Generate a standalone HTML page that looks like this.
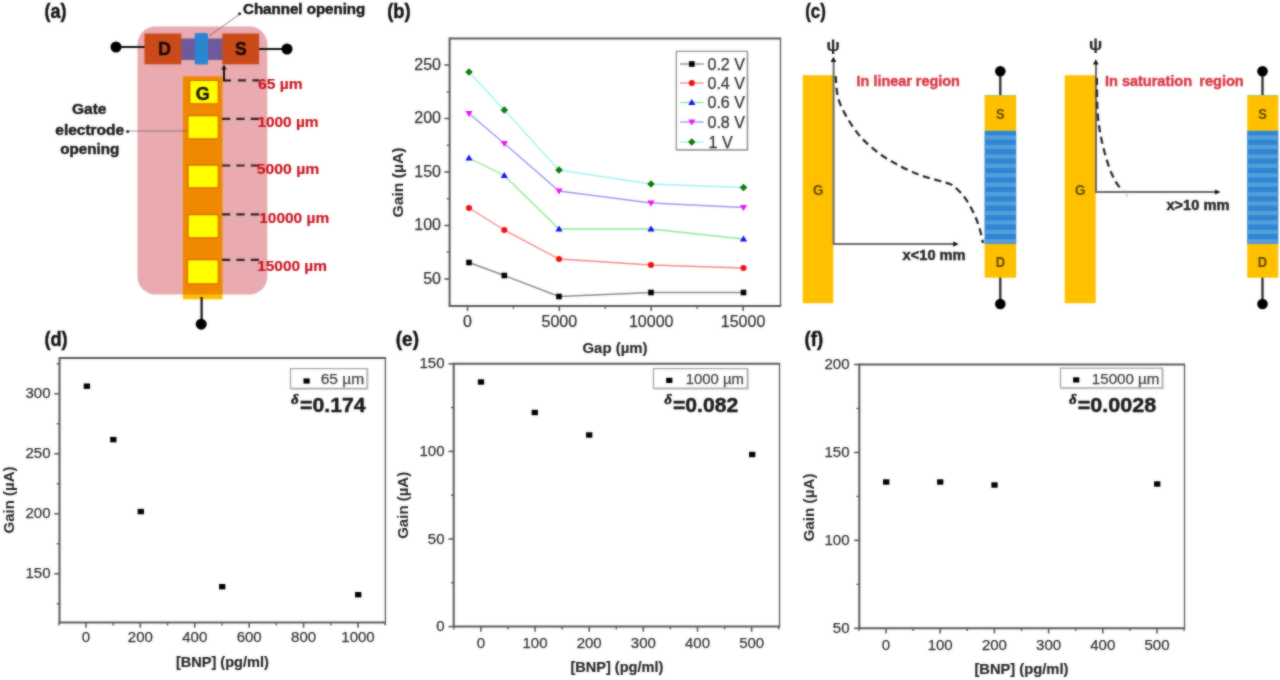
<!DOCTYPE html>
<html><head><meta charset="utf-8"><title>Figure</title>
<style>
html,body{margin:0;padding:0;background:#fff;}
body{width:1280px;height:680px;overflow:hidden;position:relative;font-family:'Liberation Sans',sans-serif;}
svg{display:block;position:absolute;left:0;top:0;font-family:"Liberation Sans",sans-serif;}
svg.soft{filter:blur(0.85px);}
svg.sharp{opacity:0.45;}
</style></head><body>
<svg class="soft" width="1280" height="680" viewBox="0 0 1280 680">
<rect x="-10" y="-10" width="1300" height="700" fill="#fff"/>
<text x="44.4" y="18.1" font-size="19.7" font-weight="bold" fill="#111" text-anchor="start" stroke="#111" stroke-width="0.45" textLength="22" lengthAdjust="spacingAndGlyphs" >(a)</text>
<rect x="137.5" y="26.5" width="129.8" height="268" rx="18" ry="18" fill="#e9abb0"/>
<line x1="116" y1="47" x2="145" y2="47" stroke="#111" stroke-width="2"/>
<circle cx="116" cy="47" r="5.5" fill="#000"/>
<line x1="259" y1="49" x2="287" y2="49" stroke="#111" stroke-width="2"/>
<circle cx="287" cy="49" r="5.5" fill="#000"/>
<rect x="181" y="38.5" width="42" height="21.5" fill="#6e5a9b"/>
<rect x="144.5" y="33.5" width="36.8" height="30.8" fill="#cb4a19"/>
<rect x="222.3" y="33.5" width="36.8" height="30.8" fill="#cb4a19"/>
<rect x="194.7" y="33" width="13.3" height="31.5" rx="1.5" fill="#2b86d1"/>
<text x="164.6" y="54.6" font-size="17.5" font-weight="bold" fill="#1a0a05" text-anchor="middle" stroke="#1a0a05" stroke-width="0.45" >D</text>
<text x="240.9" y="54.8" font-size="17.5" font-weight="bold" fill="#1a0a05" text-anchor="middle" stroke="#1a0a05" stroke-width="0.45" >S</text>
<line x1="240" y1="14" x2="209" y2="36" stroke="#666" stroke-width="0.8"/>
<circle cx="239.6" cy="13.7" r="1.5" fill="#222"/>
<text x="243" y="14.2" font-size="15" font-weight="bold" fill="#151515" text-anchor="start" stroke="#151515" stroke-width="0.45" textLength="122.3" lengthAdjust="spacingAndGlyphs" >Channel opening</text>
<rect x="182.9" y="294" width="39.6" height="5.3" fill="#ffc000"/>
<rect x="182.9" y="76.3" width="39.6" height="218.2" fill="#ef8a00"/>
<rect x="189.6" y="80.3" width="28.80000000000001" height="23.5" rx="1.5" fill="#ffff00" stroke="#e06c00" stroke-width="1.3"/>
<rect x="187.8" y="115.5" width="30.599999999999994" height="23.5" rx="1.5" fill="#ffff00" stroke="#e06c00" stroke-width="1.3"/>
<rect x="188" y="165" width="30.400000000000006" height="23" rx="1.5" fill="#ffff00" stroke="#e06c00" stroke-width="1.3"/>
<rect x="188" y="214.5" width="30.400000000000006" height="23.5" rx="1.5" fill="#ffff00" stroke="#e06c00" stroke-width="1.3"/>
<rect x="187.5" y="259.5" width="30.900000000000006" height="24.5" rx="1.5" fill="#ffff00" stroke="#e06c00" stroke-width="1.3"/>
<text x="202.8" y="99.8" font-size="18" font-weight="bold" fill="#1a1400" text-anchor="middle" stroke="#1a1400" stroke-width="0.45" >G</text>
<line x1="201.6" y1="297" x2="201.6" y2="322" stroke="#111" stroke-width="2.2"/>
<circle cx="201.2" cy="324.2" r="5.5" fill="#000"/>
<path d="M224 67 L224 80.6 L231 80.6" fill="none" stroke="#111" stroke-width="2"/>
<path d="M224 64.5 L221.4 69.5 L226.6 69.5 Z" fill="#111"/>
<line x1="238" y1="80.4" x2="259" y2="80.4" stroke="#2a2222" stroke-width="2.2" stroke-dasharray="8,6.4"/>
<line x1="222" y1="118.8" x2="259" y2="118.8" stroke="#2a2222" stroke-width="2.2" stroke-dasharray="8.2,6.2"/>
<line x1="222" y1="165.5" x2="259" y2="165.5" stroke="#2a2222" stroke-width="2.2" stroke-dasharray="8.2,6.2"/>
<line x1="222" y1="214.3" x2="259" y2="214.3" stroke="#2a2222" stroke-width="2.2" stroke-dasharray="8.2,6.2"/>
<line x1="222" y1="259.8" x2="259" y2="259.8" stroke="#2a2222" stroke-width="2.2" stroke-dasharray="8.2,6.2"/>
<text x="258" y="88.5" font-size="14" font-weight="bold" fill="#c9141f" text-anchor="start" stroke="#c9141f" stroke-width="0.15" textLength="44.5" lengthAdjust="spacingAndGlyphs" >65 µm</text>
<text x="257.4" y="126.6" font-size="14" font-weight="bold" fill="#c9141f" text-anchor="start" stroke="#c9141f" stroke-width="0.15" textLength="61.2" lengthAdjust="spacingAndGlyphs" >1000 µm</text>
<text x="256.8" y="174.1" font-size="14" font-weight="bold" fill="#c9141f" text-anchor="start" stroke="#c9141f" stroke-width="0.15" textLength="62.5" lengthAdjust="spacingAndGlyphs" >5000 µm</text>
<text x="259.2" y="222.9" font-size="14" font-weight="bold" fill="#c9141f" text-anchor="start" stroke="#c9141f" stroke-width="0.15" textLength="70" lengthAdjust="spacingAndGlyphs" >10000 µm</text>
<text x="257.2" y="270.7" font-size="14" font-weight="bold" fill="#c9141f" text-anchor="start" stroke="#c9141f" stroke-width="0.15" textLength="69.8" lengthAdjust="spacingAndGlyphs" >15000 µm</text>
<text x="72" y="114.1" font-size="14.5" font-weight="bold" fill="#1c1c1c" text-anchor="start" stroke="#1c1c1c" stroke-width="0.45" textLength="34.5" lengthAdjust="spacingAndGlyphs" >Gate</text>
<text x="55.3" y="134.6" font-size="14.5" font-weight="bold" fill="#1c1c1c" text-anchor="start" stroke="#1c1c1c" stroke-width="0.45" textLength="68.8" lengthAdjust="spacingAndGlyphs" >electrode</text>
<text x="60.2" y="154.1" font-size="14.5" font-weight="bold" fill="#1c1c1c" text-anchor="start" stroke="#1c1c1c" stroke-width="0.45" textLength="59" lengthAdjust="spacingAndGlyphs" >opening</text>
<circle cx="127.7" cy="131.5" r="1.5" fill="#222"/>
<line x1="128" y1="131" x2="187.5" y2="131" stroke="#555" stroke-opacity="0.6" stroke-width="1"/>
<text x="387.2" y="18.1" font-size="19.7" font-weight="bold" fill="#111" text-anchor="start" stroke="#111" stroke-width="0.45" textLength="23.4" lengthAdjust="spacingAndGlyphs" >(b)</text>
<rect x="449.6" y="38.5" width="330.9" height="267.4" fill="#fff" stroke="none"/>
<line x1="449.6" y1="37.5" x2="449.6" y2="306.9" stroke="#5a5a5a" stroke-width="2"/>
<line x1="449.6" y1="305.9" x2="781.15" y2="305.9" stroke="#5a5a5a" stroke-width="2"/>
<line x1="449.6" y1="38.5" x2="781.15" y2="38.5" stroke="#5a5a5a" stroke-width="2"/>
<line x1="780.5" y1="38.5" x2="780.5" y2="305.9" stroke="#5a5a5a" stroke-width="1.3"/>
<line x1="444.40000000000003" y1="279.0" x2="449.6" y2="279.0" stroke="#5a5a5a" stroke-width="1.6"/>
<line x1="444.40000000000003" y1="225.5" x2="449.6" y2="225.5" stroke="#5a5a5a" stroke-width="1.6"/>
<line x1="444.40000000000003" y1="172.0" x2="449.6" y2="172.0" stroke="#5a5a5a" stroke-width="1.6"/>
<line x1="444.40000000000003" y1="118.5" x2="449.6" y2="118.5" stroke="#5a5a5a" stroke-width="1.6"/>
<line x1="444.40000000000003" y1="65.0" x2="449.6" y2="65.0" stroke="#5a5a5a" stroke-width="1.6"/>
<line x1="446.8" y1="252.25" x2="449.6" y2="252.25" stroke="#5a5a5a" stroke-width="1.4"/>
<line x1="446.8" y1="198.75" x2="449.6" y2="198.75" stroke="#5a5a5a" stroke-width="1.4"/>
<line x1="446.8" y1="145.25" x2="449.6" y2="145.25" stroke="#5a5a5a" stroke-width="1.4"/>
<line x1="446.8" y1="91.75" x2="449.6" y2="91.75" stroke="#5a5a5a" stroke-width="1.4"/>
<text x="441" y="283.86" font-size="16" font-weight="normal" fill="#333" text-anchor="end" stroke="#333" stroke-width="0.25" >50</text>
<text x="441" y="230.35999999999999" font-size="16" font-weight="normal" fill="#333" text-anchor="end" stroke="#333" stroke-width="0.25" >100</text>
<text x="441" y="176.85999999999999" font-size="16" font-weight="normal" fill="#333" text-anchor="end" stroke="#333" stroke-width="0.25" >150</text>
<text x="441" y="123.36" font-size="16" font-weight="normal" fill="#333" text-anchor="end" stroke="#333" stroke-width="0.25" >200</text>
<text x="441" y="69.86" font-size="16" font-weight="normal" fill="#333" text-anchor="end" stroke="#333" stroke-width="0.25" >250</text>
<line x1="467.5" y1="305.9" x2="467.5" y2="311.09999999999997" stroke="#5a5a5a" stroke-width="1.6"/>
<line x1="559.35" y1="305.9" x2="559.35" y2="311.09999999999997" stroke="#5a5a5a" stroke-width="1.6"/>
<line x1="651.2" y1="305.9" x2="651.2" y2="311.09999999999997" stroke="#5a5a5a" stroke-width="1.6"/>
<line x1="743.05" y1="305.9" x2="743.05" y2="311.09999999999997" stroke="#5a5a5a" stroke-width="1.6"/>
<line x1="513.425" y1="305.9" x2="513.425" y2="308.7" stroke="#5a5a5a" stroke-width="1.4"/>
<line x1="605.275" y1="305.9" x2="605.275" y2="308.7" stroke="#5a5a5a" stroke-width="1.4"/>
<line x1="697.125" y1="305.9" x2="697.125" y2="308.7" stroke="#5a5a5a" stroke-width="1.4"/>
<text x="467.5" y="326.86" font-size="16" font-weight="normal" fill="#333" text-anchor="middle" stroke="#333" stroke-width="0.25" >0</text>
<text x="559.35" y="326.86" font-size="16" font-weight="normal" fill="#333" text-anchor="middle" stroke="#333" stroke-width="0.25" >5000</text>
<text x="651.2" y="326.86" font-size="16" font-weight="normal" fill="#333" text-anchor="middle" stroke="#333" stroke-width="0.25" >10000</text>
<text x="743.05" y="326.86" font-size="16" font-weight="normal" fill="#333" text-anchor="middle" stroke="#333" stroke-width="0.25" >15000</text>
<text transform="translate(403,182.5) rotate(-90)" x="0" y="0" font-size="15" font-weight="bold" fill="#262626" text-anchor="middle" textLength="70" lengthAdjust="spacingAndGlyphs">Gain (µA)</text>
<text x="615" y="353.1" font-size="15" font-weight="bold" fill="#262626" text-anchor="middle" stroke="#262626" stroke-width="0.15" textLength="65" lengthAdjust="spacingAndGlyphs" >Gap (µm)</text>
<polyline points="469,262.5 504.3,275.5 559,296.5 651,292.5 743.5,292.5" fill="none" stroke="#8a8a8a" stroke-width="1.35"/>
<polyline points="469,208 504.3,230 559,259 651,265 743.5,268" fill="none" stroke="#f58a8a" stroke-width="1.35"/>
<polyline points="469,158 504.3,175.5 559,229 651,229 743.5,239" fill="none" stroke="#93e693" stroke-width="1.35"/>
<polyline points="469,113.5 504.3,143.5 559,191 651,203 743.5,207.5" fill="none" stroke="#9a9af2" stroke-width="1.35"/>
<polyline points="469,72 504.3,110 559,170 651,184 743.5,187.5" fill="none" stroke="#a6f2f2" stroke-width="1.35"/>
<rect x="466.2" y="259.7" width="5.6" height="5.6" fill="#000"/>
<rect x="501.5" y="272.7" width="5.6" height="5.6" fill="#000"/>
<rect x="556.2" y="293.7" width="5.6" height="5.6" fill="#000"/>
<rect x="648.2" y="289.7" width="5.6" height="5.6" fill="#000"/>
<rect x="740.7" y="289.7" width="5.6" height="5.6" fill="#000"/>
<circle cx="469" cy="208" r="3.05" fill="#f01010"/>
<circle cx="504.3" cy="230" r="3.05" fill="#f01010"/>
<circle cx="559" cy="259" r="3.05" fill="#f01010"/>
<circle cx="651" cy="265" r="3.05" fill="#f01010"/>
<circle cx="743.5" cy="268" r="3.05" fill="#f01010"/>
<path d="M469 154.4 L472.6 160.6 L465.4 160.6 Z" fill="#1010f0"/>
<path d="M504.3 171.9 L507.90000000000003 178.1 L500.7 178.1 Z" fill="#1010f0"/>
<path d="M559 225.4 L562.6 231.6 L555.4 231.6 Z" fill="#1010f0"/>
<path d="M651 225.4 L654.6 231.6 L647.4 231.6 Z" fill="#1010f0"/>
<path d="M743.5 235.4 L747.1 241.6 L739.9 241.6 Z" fill="#1010f0"/>
<path d="M469 117.1 L472.6 110.9 L465.4 110.9 Z" fill="#f010f0"/>
<path d="M504.3 147.1 L507.90000000000003 140.9 L500.7 140.9 Z" fill="#f010f0"/>
<path d="M559 194.6 L562.6 188.4 L555.4 188.4 Z" fill="#f010f0"/>
<path d="M651 206.6 L654.6 200.4 L647.4 200.4 Z" fill="#f010f0"/>
<path d="M743.5 211.1 L747.1 204.9 L739.9 204.9 Z" fill="#f010f0"/>
<path d="M469 68.2 L472.8 72 L469 75.8 L465.2 72 Z" fill="#0a7a0a"/>
<path d="M504.3 106.2 L508.1 110 L504.3 113.8 L500.5 110 Z" fill="#0a7a0a"/>
<path d="M559 166.2 L562.8 170 L559 173.8 L555.2 170 Z" fill="#0a7a0a"/>
<path d="M651 180.2 L654.8 184 L651 187.8 L647.2 184 Z" fill="#0a7a0a"/>
<path d="M743.5 183.7 L747.3 187.5 L743.5 191.3 L739.7 187.5 Z" fill="#0a7a0a"/>
<rect x="677.5" y="52.5" width="71" height="98.5" fill="#999" opacity="0.55"/>
<rect x="676.3" y="51.3" width="71" height="98.5" fill="#fff" stroke="#8c8c8c" stroke-width="1.2"/>
<line x1="680" y1="64" x2="703.5" y2="64" stroke="#8a8a8a" stroke-width="1.35"/>
<rect x="689.0" y="61.2" width="5.6" height="5.6" fill="#000"/>
<text x="707.5" y="69.7" font-size="16" font-weight="normal" fill="#333" text-anchor="start" stroke="#333" stroke-width="0.25" >0.2 V</text>
<line x1="680" y1="83" x2="703.5" y2="83" stroke="#f58a8a" stroke-width="1.35"/>
<circle cx="691.8" cy="83" r="3.05" fill="#f01010"/>
<text x="707.5" y="88.7" font-size="16" font-weight="normal" fill="#333" text-anchor="start" stroke="#333" stroke-width="0.25" >0.4 V</text>
<line x1="680" y1="102.5" x2="703.5" y2="102.5" stroke="#93e693" stroke-width="1.35"/>
<path d="M691.8 98.9 L695.4 105.1 L688.1999999999999 105.1 Z" fill="#1010f0"/>
<text x="707.5" y="108.2" font-size="16" font-weight="normal" fill="#333" text-anchor="start" stroke="#333" stroke-width="0.25" >0.6 V</text>
<line x1="680" y1="122" x2="703.5" y2="122" stroke="#9a9af2" stroke-width="1.35"/>
<path d="M691.8 125.6 L695.4 119.4 L688.1999999999999 119.4 Z" fill="#f010f0"/>
<text x="707.5" y="127.7" font-size="16" font-weight="normal" fill="#333" text-anchor="start" stroke="#333" stroke-width="0.25" >0.8 V</text>
<line x1="680" y1="142" x2="703.5" y2="142" stroke="#a6f2f2" stroke-width="1.35"/>
<path d="M691.8 138.2 L695.5999999999999 142 L691.8 145.8 L688.0 142 Z" fill="#0a7a0a"/>
<text x="708.6" y="147.7" font-size="16" font-weight="normal" fill="#333" text-anchor="start" stroke="#333" stroke-width="0.25" >1 V</text>
<text x="805.2" y="18.1" font-size="19.7" font-weight="bold" fill="#111" text-anchor="start" stroke="#111" stroke-width="0.45" textLength="20.6" lengthAdjust="spacingAndGlyphs" >(c)</text>
<rect x="802.7" y="75.2" width="30.6" height="228" fill="#ffc000"/>
<text transform="translate(818.2,195.3) scale(0.9,1)" x="0" y="0" font-size="15" font-weight="bold" fill="#5e4700" text-anchor="middle">G</text>
<path d="M833.6 61 L833.6 244.1 L954 244.1" fill="none" stroke="#6a6a6a" stroke-width="2"/>
<path d="M833.4 56.8 L830.6 62 L836.2 62 Z" fill="#111"/>
<path d="M958.8 244.1 L953.2 241.5 L953.2 246.7 Z" fill="#111"/>
<text transform="translate(833,50.6) scale(1.08,1)" x="0" y="0" font-size="16.8" font-weight="bold" fill="#222" text-anchor="middle">ψ</text>
<text x="856.6" y="86.3" font-size="15" font-weight="bold" fill="#d93844" text-anchor="start" stroke="#d93844" stroke-width="0.45" textLength="103.2" lengthAdjust="spacingAndGlyphs" >In linear region</text>
<text x="902.6" y="259.7" font-size="14" font-weight="bold" fill="#262626" text-anchor="start" stroke="#262626" stroke-width="0.45" textLength="63" lengthAdjust="spacingAndGlyphs" >x&lt;10 mm</text>
<path d="M835.6 76.0 C836.0 79.7,836.3 91.3,838.2 98.2 C840.1 105.1,843.3 111.0,847.0 117.4 C850.7 123.8,855.1 130.6,860.3 136.5 C865.5 142.4,871.9 147.9,878.0 152.6 C884.1 157.2,890.2 160.7,897.0 164.4 C903.8 168.1,911.8 171.9,919.0 174.7 C926.2 177.5,934.8 179.4,940.0 181.0 C945.2 182.6,947.2 182.7,950.0 184.0 C952.8 185.3,954.3 186.4,957.0 189.0 C959.7 191.6,963.2 195.2,966.2 199.7 C969.2 204.2,972.7 210.8,975.0 215.9 C977.3 221.0,978.7 225.5,980.0 230.0 C981.3 234.5,982.5 240.8,983.0 243.0" fill="none" stroke="#2a2a2a" stroke-width="2.3" stroke-dasharray="7.2,4.6"/>
<line x1="1000.3" y1="71" x2="1000.3" y2="96" stroke="#2a2a2a" stroke-width="2.3"/>
<circle cx="1000.3" cy="71.3" r="5.3" fill="#000"/>
<line x1="1000.3" y1="277" x2="1000.3" y2="304" stroke="#2a2a2a" stroke-width="2.3"/>
<circle cx="1000.3" cy="304" r="5.3" fill="#000"/>
<rect x="984.6" y="95.5" width="31.600000000000023" height="35.3" fill="#ffc000"/>
<rect x="984.6" y="95" width="31.600000000000023" height="1.1" fill="#9ccf6a"/>
<rect x="984.6" y="243.7" width="31.600000000000023" height="34" fill="#ffc000"/>
<rect x="984.6" y="130.7" width="31.600000000000023" height="113.2" fill="#2f86d1"/>
<rect x="984.6" y="135.42" width="31.600000000000023" height="4.25" fill="#559fdc"/>
<rect x="984.6" y="144.85" width="31.600000000000023" height="4.25" fill="#559fdc"/>
<rect x="984.6" y="154.28" width="31.600000000000023" height="4.25" fill="#559fdc"/>
<rect x="984.6" y="163.72" width="31.600000000000023" height="4.25" fill="#559fdc"/>
<rect x="984.6" y="173.15" width="31.600000000000023" height="4.25" fill="#559fdc"/>
<rect x="984.6" y="182.58" width="31.600000000000023" height="4.25" fill="#559fdc"/>
<rect x="984.6" y="192.02" width="31.600000000000023" height="4.25" fill="#559fdc"/>
<rect x="984.6" y="201.45" width="31.600000000000023" height="4.25" fill="#559fdc"/>
<rect x="984.6" y="210.88" width="31.600000000000023" height="4.25" fill="#559fdc"/>
<rect x="984.6" y="220.32" width="31.600000000000023" height="4.25" fill="#559fdc"/>
<rect x="984.6" y="229.75" width="31.600000000000023" height="4.25" fill="#559fdc"/>
<rect x="984.6" y="239.18" width="31.600000000000023" height="4.25" fill="#559fdc"/>
<text transform="translate(1000.3,118.8) scale(0.86,1)" x="0" y="0" font-size="15" font-weight="bold" fill="#5e4700" text-anchor="middle">S</text>
<text transform="translate(1000.3,267.4) scale(0.86,1)" x="0" y="0" font-size="15" font-weight="bold" fill="#5e4700" text-anchor="middle">D</text>
<rect x="1064.7" y="75.2" width="31" height="228" fill="#ffc000"/>
<text transform="translate(1080.2,195.3) scale(0.9,1)" x="0" y="0" font-size="15" font-weight="bold" fill="#5e4700" text-anchor="middle">G</text>
<path d="M1096 63 L1096 192 L1216 192" fill="none" stroke="#6a6a6a" stroke-width="2"/>
<path d="M1095.8 59.3 L1093 64.5 L1098.6 64.5 Z" fill="#111"/>
<path d="M1220.6 192 L1215 189.4 L1215 194.6 Z" fill="#111"/>
<text transform="translate(1095.6,50.4) scale(1.08,1)" x="0" y="0" font-size="16.8" font-weight="bold" fill="#222" text-anchor="middle">ψ</text>
<text x="1105" y="85.9" font-size="15" font-weight="bold" fill="#d93844" text-anchor="start" stroke="#d93844" stroke-width="0.45" textLength="87" lengthAdjust="spacingAndGlyphs" >In saturation</text>
<text x="1199.3" y="85.9" font-size="15" font-weight="bold" fill="#d93844" text-anchor="start" stroke="#d93844" stroke-width="0.45" textLength="44.4" lengthAdjust="spacingAndGlyphs" >region</text>
<text x="1166.4" y="209.5" font-size="14" font-weight="bold" fill="#262626" text-anchor="start" stroke="#262626" stroke-width="0.45" textLength="63" lengthAdjust="spacingAndGlyphs" >x&gt;10 mm</text>
<path d="M1096.9 78.0 C1097.0 83.8,1096.8 102.5,1097.6 113.0 C1098.4 123.5,1099.9 132.2,1101.8 141.0 C1103.7 149.8,1106.4 159.2,1108.7 166.0 C1111.0 172.8,1113.4 177.4,1115.7 181.6 C1118.0 185.8,1121.5 189.4,1122.7 191.0" fill="none" stroke="#2a2a2a" stroke-width="2.3" stroke-dasharray="7.2,4.6"/>
<rect x="1126.3" y="194" width="1.3" height="2.6" fill="#bbb"/>
<line x1="1262.5" y1="71" x2="1262.5" y2="96" stroke="#2a2a2a" stroke-width="2.3"/>
<circle cx="1262.5" cy="71.3" r="5.3" fill="#000"/>
<line x1="1262.5" y1="277" x2="1262.5" y2="304" stroke="#2a2a2a" stroke-width="2.3"/>
<circle cx="1262.5" cy="304" r="5.3" fill="#000"/>
<rect x="1247.2" y="95.5" width="31.09999999999991" height="35.3" fill="#ffc000"/>
<rect x="1247.2" y="95" width="31.09999999999991" height="1.1" fill="#9ccf6a"/>
<rect x="1247.2" y="243.7" width="31.09999999999991" height="34" fill="#ffc000"/>
<rect x="1247.2" y="130.7" width="31.09999999999991" height="113.2" fill="#2f86d1"/>
<rect x="1247.2" y="135.42" width="31.09999999999991" height="4.25" fill="#559fdc"/>
<rect x="1247.2" y="144.85" width="31.09999999999991" height="4.25" fill="#559fdc"/>
<rect x="1247.2" y="154.28" width="31.09999999999991" height="4.25" fill="#559fdc"/>
<rect x="1247.2" y="163.72" width="31.09999999999991" height="4.25" fill="#559fdc"/>
<rect x="1247.2" y="173.15" width="31.09999999999991" height="4.25" fill="#559fdc"/>
<rect x="1247.2" y="182.58" width="31.09999999999991" height="4.25" fill="#559fdc"/>
<rect x="1247.2" y="192.02" width="31.09999999999991" height="4.25" fill="#559fdc"/>
<rect x="1247.2" y="201.45" width="31.09999999999991" height="4.25" fill="#559fdc"/>
<rect x="1247.2" y="210.88" width="31.09999999999991" height="4.25" fill="#559fdc"/>
<rect x="1247.2" y="220.32" width="31.09999999999991" height="4.25" fill="#559fdc"/>
<rect x="1247.2" y="229.75" width="31.09999999999991" height="4.25" fill="#559fdc"/>
<rect x="1247.2" y="239.18" width="31.09999999999991" height="4.25" fill="#559fdc"/>
<text transform="translate(1262.5,118.8) scale(0.86,1)" x="0" y="0" font-size="15" font-weight="bold" fill="#5e4700" text-anchor="middle">S</text>
<text transform="translate(1262.5,267.4) scale(0.86,1)" x="0" y="0" font-size="15" font-weight="bold" fill="#5e4700" text-anchor="middle">D</text>
<text x="44.4" y="345.8" font-size="19.7" font-weight="bold" fill="#111" text-anchor="start" stroke="#111" stroke-width="0.45" textLength="23.2" lengthAdjust="spacingAndGlyphs" >(d)</text>
<rect x="59.5" y="358" width="325.9" height="264.6" fill="#fff" stroke="none"/>
<line x1="59.5" y1="357.0" x2="59.5" y2="623.6" stroke="#5a5a5a" stroke-width="2"/>
<line x1="59.5" y1="622.6" x2="386.04999999999995" y2="622.6" stroke="#5a5a5a" stroke-width="2"/>
<line x1="59.5" y1="358" x2="386.04999999999995" y2="358" stroke="#5a5a5a" stroke-width="2"/>
<line x1="385.4" y1="358" x2="385.4" y2="622.6" stroke="#5a5a5a" stroke-width="1.3"/>
<line x1="54.3" y1="573.75" x2="59.5" y2="573.75" stroke="#5a5a5a" stroke-width="1.6"/>
<line x1="54.3" y1="513.75" x2="59.5" y2="513.75" stroke="#5a5a5a" stroke-width="1.6"/>
<line x1="54.3" y1="453.75" x2="59.5" y2="453.75" stroke="#5a5a5a" stroke-width="1.6"/>
<line x1="54.3" y1="393.75" x2="59.5" y2="393.75" stroke="#5a5a5a" stroke-width="1.6"/>
<line x1="56.7" y1="603.75" x2="59.5" y2="603.75" stroke="#5a5a5a" stroke-width="1.4"/>
<line x1="56.7" y1="543.75" x2="59.5" y2="543.75" stroke="#5a5a5a" stroke-width="1.4"/>
<line x1="56.7" y1="483.75" x2="59.5" y2="483.75" stroke="#5a5a5a" stroke-width="1.4"/>
<line x1="56.7" y1="423.75" x2="59.5" y2="423.75" stroke="#5a5a5a" stroke-width="1.4"/>
<line x1="56.7" y1="363.75" x2="59.5" y2="363.75" stroke="#5a5a5a" stroke-width="1.4"/>
<text x="50.5" y="578.25" font-size="15" font-weight="normal" fill="#333" text-anchor="end" stroke="#333" stroke-width="0.25" >150</text>
<text x="50.5" y="518.25" font-size="15" font-weight="normal" fill="#333" text-anchor="end" stroke="#333" stroke-width="0.25" >200</text>
<text x="50.5" y="458.25" font-size="15" font-weight="normal" fill="#333" text-anchor="end" stroke="#333" stroke-width="0.25" >250</text>
<text x="50.5" y="398.25" font-size="15" font-weight="normal" fill="#333" text-anchor="end" stroke="#333" stroke-width="0.25" >300</text>
<line x1="85.9" y1="622.6" x2="85.9" y2="627.8000000000001" stroke="#5a5a5a" stroke-width="1.6"/>
<line x1="140.32" y1="622.6" x2="140.32" y2="627.8000000000001" stroke="#5a5a5a" stroke-width="1.6"/>
<line x1="194.74" y1="622.6" x2="194.74" y2="627.8000000000001" stroke="#5a5a5a" stroke-width="1.6"/>
<line x1="249.16" y1="622.6" x2="249.16" y2="627.8000000000001" stroke="#5a5a5a" stroke-width="1.6"/>
<line x1="303.58000000000004" y1="622.6" x2="303.58000000000004" y2="627.8000000000001" stroke="#5a5a5a" stroke-width="1.6"/>
<line x1="358.0" y1="622.6" x2="358.0" y2="627.8000000000001" stroke="#5a5a5a" stroke-width="1.6"/>
<line x1="58.690000000000005" y1="622.6" x2="58.690000000000005" y2="625.4" stroke="#5a5a5a" stroke-width="1.4"/>
<line x1="113.11000000000001" y1="622.6" x2="113.11000000000001" y2="625.4" stroke="#5a5a5a" stroke-width="1.4"/>
<line x1="167.53" y1="622.6" x2="167.53" y2="625.4" stroke="#5a5a5a" stroke-width="1.4"/>
<line x1="221.95000000000002" y1="622.6" x2="221.95000000000002" y2="625.4" stroke="#5a5a5a" stroke-width="1.4"/>
<line x1="276.37" y1="622.6" x2="276.37" y2="625.4" stroke="#5a5a5a" stroke-width="1.4"/>
<line x1="330.79" y1="622.6" x2="330.79" y2="625.4" stroke="#5a5a5a" stroke-width="1.4"/>
<line x1="385.21000000000004" y1="622.6" x2="385.21000000000004" y2="625.4" stroke="#5a5a5a" stroke-width="1.4"/>
<text x="85.9" y="642.3" font-size="15" font-weight="normal" fill="#333" text-anchor="middle" stroke="#333" stroke-width="0.25" >0</text>
<text x="140.32" y="642.3" font-size="15" font-weight="normal" fill="#333" text-anchor="middle" stroke="#333" stroke-width="0.25" >200</text>
<text x="194.74" y="642.3" font-size="15" font-weight="normal" fill="#333" text-anchor="middle" stroke="#333" stroke-width="0.25" >400</text>
<text x="249.16" y="642.3" font-size="15" font-weight="normal" fill="#333" text-anchor="middle" stroke="#333" stroke-width="0.25" >600</text>
<text x="303.58000000000004" y="642.3" font-size="15" font-weight="normal" fill="#333" text-anchor="middle" stroke="#333" stroke-width="0.25" >800</text>
<text x="358.0" y="642.3" font-size="15" font-weight="normal" fill="#333" text-anchor="middle" stroke="#333" stroke-width="0.25" >1000</text>
<text transform="translate(14,500) rotate(-90)" x="0" y="0" font-size="15" font-weight="bold" fill="#262626" text-anchor="middle" textLength="67" lengthAdjust="spacingAndGlyphs">Gain (µA)</text>
<text x="222.4" y="667.3" font-size="14" font-weight="bold" fill="#262626" text-anchor="middle" stroke="#262626" stroke-width="0.15" textLength="93" lengthAdjust="spacingAndGlyphs" >[BNP] (pg/ml)</text>
<rect x="83.75" y="383.5" width="6.3" height="5.4" fill="#000"/>
<rect x="110.14999999999999" y="436.90000000000003" width="6.3" height="5.4" fill="#000"/>
<rect x="137.65" y="508.90000000000003" width="6.3" height="5.4" fill="#000"/>
<rect x="219.04999999999998" y="584.0" width="6.3" height="5.4" fill="#000"/>
<rect x="355.05" y="592.0" width="6.3" height="5.4" fill="#000"/>
<rect x="291.5" y="369.6" width="76.5" height="19.8" fill="none" stroke="#d4d4d4" stroke-width="1.2"/>
<rect x="290.5" y="368.6" width="76.5" height="19.8" fill="#fff" stroke="#a8a8a8" stroke-width="1.3"/>
<rect x="303.5" y="378.4" width="6.2" height="5.2" fill="#000"/>
<text x="320.7" y="383.5" font-size="14.7" font-weight="normal" fill="#40404a" text-anchor="start" stroke="#40404a" stroke-width="0.25" textLength="43.6" lengthAdjust="spacingAndGlyphs" >65 µm</text>
<text x="291.2" y="403.8" font-size="14.5" font-weight="bold" font-style="italic" fill="#1a1a1a" style="font-family:'Liberation Serif',serif" stroke="#1a1a1a" stroke-width="0.6">δ</text>
<text x="300" y="411.6" font-size="21" font-weight="bold" fill="#1a1a1a" text-anchor="start" stroke="#1a1a1a" stroke-width="0.45" textLength="65.6" lengthAdjust="spacingAndGlyphs" >=0.174</text>
<text x="395.8" y="345.8" font-size="19.7" font-weight="bold" fill="#111" text-anchor="start" stroke="#111" stroke-width="0.45" textLength="23.2" lengthAdjust="spacingAndGlyphs" >(e)</text>
<rect x="453.7" y="363.8" width="325.8" height="262.8" fill="#fff" stroke="none"/>
<line x1="453.7" y1="362.8" x2="453.7" y2="627.6" stroke="#5a5a5a" stroke-width="2"/>
<line x1="453.7" y1="626.6" x2="780.15" y2="626.6" stroke="#5a5a5a" stroke-width="2"/>
<line x1="453.7" y1="363.8" x2="780.15" y2="363.8" stroke="#5a5a5a" stroke-width="2"/>
<line x1="779.5" y1="363.8" x2="779.5" y2="626.6" stroke="#5a5a5a" stroke-width="1.3"/>
<line x1="448.5" y1="626.6" x2="453.7" y2="626.6" stroke="#5a5a5a" stroke-width="1.6"/>
<line x1="448.5" y1="539.0" x2="453.7" y2="539.0" stroke="#5a5a5a" stroke-width="1.6"/>
<line x1="448.5" y1="451.40000000000003" x2="453.7" y2="451.40000000000003" stroke="#5a5a5a" stroke-width="1.6"/>
<line x1="448.5" y1="363.8" x2="453.7" y2="363.8" stroke="#5a5a5a" stroke-width="1.6"/>
<line x1="450.9" y1="582.8000000000001" x2="453.7" y2="582.8000000000001" stroke="#5a5a5a" stroke-width="1.4"/>
<line x1="450.9" y1="495.20000000000005" x2="453.7" y2="495.20000000000005" stroke="#5a5a5a" stroke-width="1.4"/>
<line x1="450.9" y1="407.6" x2="453.7" y2="407.6" stroke="#5a5a5a" stroke-width="1.4"/>
<text x="444.5" y="631.1" font-size="15" font-weight="normal" fill="#333" text-anchor="end" stroke="#333" stroke-width="0.25" >0</text>
<text x="444.5" y="543.5" font-size="15" font-weight="normal" fill="#333" text-anchor="end" stroke="#333" stroke-width="0.25" >50</text>
<text x="444.5" y="455.90000000000003" font-size="15" font-weight="normal" fill="#333" text-anchor="end" stroke="#333" stroke-width="0.25" >100</text>
<text x="444.5" y="368.3" font-size="15" font-weight="normal" fill="#333" text-anchor="end" stroke="#333" stroke-width="0.25" >150</text>
<line x1="480.9" y1="626.6" x2="480.9" y2="631.8000000000001" stroke="#5a5a5a" stroke-width="1.6"/>
<line x1="535.05" y1="626.6" x2="535.05" y2="631.8000000000001" stroke="#5a5a5a" stroke-width="1.6"/>
<line x1="589.1999999999999" y1="626.6" x2="589.1999999999999" y2="631.8000000000001" stroke="#5a5a5a" stroke-width="1.6"/>
<line x1="643.3499999999999" y1="626.6" x2="643.3499999999999" y2="631.8000000000001" stroke="#5a5a5a" stroke-width="1.6"/>
<line x1="697.5" y1="626.6" x2="697.5" y2="631.8000000000001" stroke="#5a5a5a" stroke-width="1.6"/>
<line x1="751.65" y1="626.6" x2="751.65" y2="631.8000000000001" stroke="#5a5a5a" stroke-width="1.6"/>
<line x1="453.825" y1="626.6" x2="453.825" y2="629.4" stroke="#5a5a5a" stroke-width="1.4"/>
<line x1="507.97499999999997" y1="626.6" x2="507.97499999999997" y2="629.4" stroke="#5a5a5a" stroke-width="1.4"/>
<line x1="562.125" y1="626.6" x2="562.125" y2="629.4" stroke="#5a5a5a" stroke-width="1.4"/>
<line x1="616.275" y1="626.6" x2="616.275" y2="629.4" stroke="#5a5a5a" stroke-width="1.4"/>
<line x1="670.425" y1="626.6" x2="670.425" y2="629.4" stroke="#5a5a5a" stroke-width="1.4"/>
<line x1="724.5749999999999" y1="626.6" x2="724.5749999999999" y2="629.4" stroke="#5a5a5a" stroke-width="1.4"/>
<line x1="778.7249999999999" y1="626.6" x2="778.7249999999999" y2="629.4" stroke="#5a5a5a" stroke-width="1.4"/>
<text x="480.9" y="648.0" font-size="15" font-weight="normal" fill="#333" text-anchor="middle" stroke="#333" stroke-width="0.25" >0</text>
<text x="535.05" y="648.0" font-size="15" font-weight="normal" fill="#333" text-anchor="middle" stroke="#333" stroke-width="0.25" >100</text>
<text x="589.1999999999999" y="648.0" font-size="15" font-weight="normal" fill="#333" text-anchor="middle" stroke="#333" stroke-width="0.25" >200</text>
<text x="643.3499999999999" y="648.0" font-size="15" font-weight="normal" fill="#333" text-anchor="middle" stroke="#333" stroke-width="0.25" >300</text>
<text x="697.5" y="648.0" font-size="15" font-weight="normal" fill="#333" text-anchor="middle" stroke="#333" stroke-width="0.25" >400</text>
<text x="751.65" y="648.0" font-size="15" font-weight="normal" fill="#333" text-anchor="middle" stroke="#333" stroke-width="0.25" >500</text>
<text transform="translate(408,505.3) rotate(-90)" x="0" y="0" font-size="15" font-weight="bold" fill="#262626" text-anchor="middle" textLength="67" lengthAdjust="spacingAndGlyphs">Gain (µA)</text>
<text x="616.9" y="672.3" font-size="14" font-weight="bold" fill="#262626" text-anchor="middle" stroke="#262626" stroke-width="0.15" textLength="93" lengthAdjust="spacingAndGlyphs" >[BNP] (pg/ml)</text>
<rect x="477.85" y="379.3" width="6.3" height="5.4" fill="#000"/>
<rect x="531.65" y="409.8" width="6.3" height="5.4" fill="#000"/>
<rect x="586.0500000000001" y="432.3" width="6.3" height="5.4" fill="#000"/>
<rect x="749.0500000000001" y="451.8" width="6.3" height="5.4" fill="#000"/>
<rect x="654.4" y="369.6" width="94" height="19.6" fill="none" stroke="#d4d4d4" stroke-width="1.2"/>
<rect x="653.4" y="368.6" width="94" height="19.6" fill="#fff" stroke="#a8a8a8" stroke-width="1.3"/>
<rect x="666.1999999999999" y="377.79999999999995" width="6.2" height="5.2" fill="#000"/>
<text x="685.8" y="383.5" font-size="14.7" font-weight="normal" fill="#40404a" text-anchor="start" stroke="#40404a" stroke-width="0.25" textLength="58.2" lengthAdjust="spacingAndGlyphs" >1000 µm</text>
<text x="664.4" y="403.8" font-size="14.5" font-weight="bold" font-style="italic" fill="#1a1a1a" style="font-family:'Liberation Serif',serif" stroke="#1a1a1a" stroke-width="0.6">δ</text>
<text x="673" y="411.8" font-size="21" font-weight="bold" fill="#1a1a1a" text-anchor="start" stroke="#1a1a1a" stroke-width="0.45" textLength="65.2" lengthAdjust="spacingAndGlyphs" >=0.082</text>
<text x="804.6" y="345.8" font-size="19.7" font-weight="bold" fill="#111" text-anchor="start" stroke="#111" stroke-width="0.45" textLength="18.6" lengthAdjust="spacingAndGlyphs" >(f)</text>
<rect x="859.3" y="364.5" width="325.20000000000005" height="263.79999999999995" fill="#fff" stroke="none"/>
<line x1="859.3" y1="363.5" x2="859.3" y2="629.3" stroke="#5a5a5a" stroke-width="2"/>
<line x1="859.3" y1="628.3" x2="1185.15" y2="628.3" stroke="#5a5a5a" stroke-width="2"/>
<line x1="859.3" y1="364.5" x2="1185.15" y2="364.5" stroke="#5a5a5a" stroke-width="2"/>
<line x1="1184.5" y1="364.5" x2="1184.5" y2="628.3" stroke="#5a5a5a" stroke-width="1.3"/>
<line x1="854.0999999999999" y1="628.3" x2="859.3" y2="628.3" stroke="#5a5a5a" stroke-width="1.6"/>
<line x1="854.0999999999999" y1="540.365" x2="859.3" y2="540.365" stroke="#5a5a5a" stroke-width="1.6"/>
<line x1="854.0999999999999" y1="452.42999999999995" x2="859.3" y2="452.42999999999995" stroke="#5a5a5a" stroke-width="1.6"/>
<line x1="854.0999999999999" y1="364.49499999999995" x2="859.3" y2="364.49499999999995" stroke="#5a5a5a" stroke-width="1.6"/>
<line x1="856.5" y1="584.3325" x2="859.3" y2="584.3325" stroke="#5a5a5a" stroke-width="1.4"/>
<line x1="856.5" y1="496.3974999999999" x2="859.3" y2="496.3974999999999" stroke="#5a5a5a" stroke-width="1.4"/>
<line x1="856.5" y1="408.4625" x2="859.3" y2="408.4625" stroke="#5a5a5a" stroke-width="1.4"/>
<text x="849.5" y="632.8" font-size="15" font-weight="normal" fill="#333" text-anchor="end" stroke="#333" stroke-width="0.25" >50</text>
<text x="849.5" y="544.865" font-size="15" font-weight="normal" fill="#333" text-anchor="end" stroke="#333" stroke-width="0.25" >100</text>
<text x="849.5" y="456.92999999999995" font-size="15" font-weight="normal" fill="#333" text-anchor="end" stroke="#333" stroke-width="0.25" >150</text>
<text x="849.5" y="368.99499999999995" font-size="15" font-weight="normal" fill="#333" text-anchor="end" stroke="#333" stroke-width="0.25" >200</text>
<line x1="886.0" y1="628.3" x2="886.0" y2="633.5" stroke="#5a5a5a" stroke-width="1.6"/>
<line x1="940.2" y1="628.3" x2="940.2" y2="633.5" stroke="#5a5a5a" stroke-width="1.6"/>
<line x1="994.4" y1="628.3" x2="994.4" y2="633.5" stroke="#5a5a5a" stroke-width="1.6"/>
<line x1="1048.6" y1="628.3" x2="1048.6" y2="633.5" stroke="#5a5a5a" stroke-width="1.6"/>
<line x1="1102.8" y1="628.3" x2="1102.8" y2="633.5" stroke="#5a5a5a" stroke-width="1.6"/>
<line x1="1157.0" y1="628.3" x2="1157.0" y2="633.5" stroke="#5a5a5a" stroke-width="1.6"/>
<line x1="858.9" y1="628.3" x2="858.9" y2="631.0999999999999" stroke="#5a5a5a" stroke-width="1.4"/>
<line x1="913.1" y1="628.3" x2="913.1" y2="631.0999999999999" stroke="#5a5a5a" stroke-width="1.4"/>
<line x1="967.3" y1="628.3" x2="967.3" y2="631.0999999999999" stroke="#5a5a5a" stroke-width="1.4"/>
<line x1="1021.5" y1="628.3" x2="1021.5" y2="631.0999999999999" stroke="#5a5a5a" stroke-width="1.4"/>
<line x1="1075.7" y1="628.3" x2="1075.7" y2="631.0999999999999" stroke="#5a5a5a" stroke-width="1.4"/>
<line x1="1129.9" y1="628.3" x2="1129.9" y2="631.0999999999999" stroke="#5a5a5a" stroke-width="1.4"/>
<line x1="1184.1" y1="628.3" x2="1184.1" y2="631.0999999999999" stroke="#5a5a5a" stroke-width="1.4"/>
<text x="886.0" y="649.6" font-size="15" font-weight="normal" fill="#333" text-anchor="middle" stroke="#333" stroke-width="0.25" >0</text>
<text x="940.2" y="649.6" font-size="15" font-weight="normal" fill="#333" text-anchor="middle" stroke="#333" stroke-width="0.25" >100</text>
<text x="994.4" y="649.6" font-size="15" font-weight="normal" fill="#333" text-anchor="middle" stroke="#333" stroke-width="0.25" >200</text>
<text x="1048.6" y="649.6" font-size="15" font-weight="normal" fill="#333" text-anchor="middle" stroke="#333" stroke-width="0.25" >300</text>
<text x="1102.8" y="649.6" font-size="15" font-weight="normal" fill="#333" text-anchor="middle" stroke="#333" stroke-width="0.25" >400</text>
<text x="1157.0" y="649.6" font-size="15" font-weight="normal" fill="#333" text-anchor="middle" stroke="#333" stroke-width="0.25" >500</text>
<text transform="translate(813.5,507.5) rotate(-90)" x="0" y="0" font-size="15" font-weight="bold" fill="#262626" text-anchor="middle" textLength="68" lengthAdjust="spacingAndGlyphs">Gain (µA)</text>
<text x="1021.4" y="674.3" font-size="14" font-weight="bold" fill="#262626" text-anchor="middle" stroke="#262626" stroke-width="0.15" textLength="94" lengthAdjust="spacingAndGlyphs" >[BNP] (pg/ml)</text>
<rect x="883.0500000000001" y="479.3" width="6.3" height="5.4" fill="#000"/>
<rect x="937.0500000000001" y="479.3" width="6.3" height="5.4" fill="#000"/>
<rect x="991.35" y="482.3" width="6.3" height="5.4" fill="#000"/>
<rect x="1154.05" y="481.3" width="6.3" height="5.4" fill="#000"/>
<rect x="1061.5" y="369.2" width="101.8" height="19.6" fill="none" stroke="#d4d4d4" stroke-width="1.2"/>
<rect x="1060.5" y="368.2" width="101.8" height="19.6" fill="#fff" stroke="#a8a8a8" stroke-width="1.3"/>
<rect x="1073.1000000000001" y="377.29999999999995" width="6.2" height="5.2" fill="#000"/>
<text x="1091.8" y="383.6" font-size="14.7" font-weight="normal" fill="#40404a" text-anchor="start" stroke="#40404a" stroke-width="0.25" textLength="67.6" lengthAdjust="spacingAndGlyphs" >15000 µm</text>
<text x="1069.3" y="403.8" font-size="14.5" font-weight="bold" font-style="italic" fill="#1a1a1a" style="font-family:'Liberation Serif',serif" stroke="#1a1a1a" stroke-width="0.6">δ</text>
<text x="1077.8" y="412" font-size="21" font-weight="bold" fill="#1a1a1a" text-anchor="start" stroke="#1a1a1a" stroke-width="0.45" textLength="78.4" lengthAdjust="spacingAndGlyphs" >=0.0028</text>
</svg>
<svg class="sharp" width="1280" height="680" viewBox="0 0 1280 680">
<rect width="1280" height="680" fill="#fff"/>
<text x="44.4" y="18.1" font-size="19.7" font-weight="bold" fill="#111" text-anchor="start" stroke="#111" stroke-width="0.45" textLength="22" lengthAdjust="spacingAndGlyphs" >(a)</text>
<rect x="137.5" y="26.5" width="129.8" height="268" rx="18" ry="18" fill="#e9abb0"/>
<line x1="116" y1="47" x2="145" y2="47" stroke="#111" stroke-width="2"/>
<circle cx="116" cy="47" r="5.5" fill="#000"/>
<line x1="259" y1="49" x2="287" y2="49" stroke="#111" stroke-width="2"/>
<circle cx="287" cy="49" r="5.5" fill="#000"/>
<rect x="181" y="38.5" width="42" height="21.5" fill="#6e5a9b"/>
<rect x="144.5" y="33.5" width="36.8" height="30.8" fill="#cb4a19"/>
<rect x="222.3" y="33.5" width="36.8" height="30.8" fill="#cb4a19"/>
<rect x="194.7" y="33" width="13.3" height="31.5" rx="1.5" fill="#2b86d1"/>
<text x="164.6" y="54.6" font-size="17.5" font-weight="bold" fill="#1a0a05" text-anchor="middle" stroke="#1a0a05" stroke-width="0.45" >D</text>
<text x="240.9" y="54.8" font-size="17.5" font-weight="bold" fill="#1a0a05" text-anchor="middle" stroke="#1a0a05" stroke-width="0.45" >S</text>
<line x1="240" y1="14" x2="209" y2="36" stroke="#666" stroke-width="0.8"/>
<circle cx="239.6" cy="13.7" r="1.5" fill="#222"/>
<text x="243" y="14.2" font-size="15" font-weight="bold" fill="#151515" text-anchor="start" stroke="#151515" stroke-width="0.45" textLength="122.3" lengthAdjust="spacingAndGlyphs" >Channel opening</text>
<rect x="182.9" y="294" width="39.6" height="5.3" fill="#ffc000"/>
<rect x="182.9" y="76.3" width="39.6" height="218.2" fill="#ef8a00"/>
<rect x="189.6" y="80.3" width="28.80000000000001" height="23.5" rx="1.5" fill="#ffff00" stroke="#e06c00" stroke-width="1.3"/>
<rect x="187.8" y="115.5" width="30.599999999999994" height="23.5" rx="1.5" fill="#ffff00" stroke="#e06c00" stroke-width="1.3"/>
<rect x="188" y="165" width="30.400000000000006" height="23" rx="1.5" fill="#ffff00" stroke="#e06c00" stroke-width="1.3"/>
<rect x="188" y="214.5" width="30.400000000000006" height="23.5" rx="1.5" fill="#ffff00" stroke="#e06c00" stroke-width="1.3"/>
<rect x="187.5" y="259.5" width="30.900000000000006" height="24.5" rx="1.5" fill="#ffff00" stroke="#e06c00" stroke-width="1.3"/>
<text x="202.8" y="99.8" font-size="18" font-weight="bold" fill="#1a1400" text-anchor="middle" stroke="#1a1400" stroke-width="0.45" >G</text>
<line x1="201.6" y1="297" x2="201.6" y2="322" stroke="#111" stroke-width="2.2"/>
<circle cx="201.2" cy="324.2" r="5.5" fill="#000"/>
<path d="M224 67 L224 80.6 L231 80.6" fill="none" stroke="#111" stroke-width="2"/>
<path d="M224 64.5 L221.4 69.5 L226.6 69.5 Z" fill="#111"/>
<line x1="238" y1="80.4" x2="259" y2="80.4" stroke="#2a2222" stroke-width="2.2" stroke-dasharray="8,6.4"/>
<line x1="222" y1="118.8" x2="259" y2="118.8" stroke="#2a2222" stroke-width="2.2" stroke-dasharray="8.2,6.2"/>
<line x1="222" y1="165.5" x2="259" y2="165.5" stroke="#2a2222" stroke-width="2.2" stroke-dasharray="8.2,6.2"/>
<line x1="222" y1="214.3" x2="259" y2="214.3" stroke="#2a2222" stroke-width="2.2" stroke-dasharray="8.2,6.2"/>
<line x1="222" y1="259.8" x2="259" y2="259.8" stroke="#2a2222" stroke-width="2.2" stroke-dasharray="8.2,6.2"/>
<text x="258" y="88.5" font-size="14" font-weight="bold" fill="#c9141f" text-anchor="start" stroke="#c9141f" stroke-width="0.15" textLength="44.5" lengthAdjust="spacingAndGlyphs" >65 µm</text>
<text x="257.4" y="126.6" font-size="14" font-weight="bold" fill="#c9141f" text-anchor="start" stroke="#c9141f" stroke-width="0.15" textLength="61.2" lengthAdjust="spacingAndGlyphs" >1000 µm</text>
<text x="256.8" y="174.1" font-size="14" font-weight="bold" fill="#c9141f" text-anchor="start" stroke="#c9141f" stroke-width="0.15" textLength="62.5" lengthAdjust="spacingAndGlyphs" >5000 µm</text>
<text x="259.2" y="222.9" font-size="14" font-weight="bold" fill="#c9141f" text-anchor="start" stroke="#c9141f" stroke-width="0.15" textLength="70" lengthAdjust="spacingAndGlyphs" >10000 µm</text>
<text x="257.2" y="270.7" font-size="14" font-weight="bold" fill="#c9141f" text-anchor="start" stroke="#c9141f" stroke-width="0.15" textLength="69.8" lengthAdjust="spacingAndGlyphs" >15000 µm</text>
<text x="72" y="114.1" font-size="14.5" font-weight="bold" fill="#1c1c1c" text-anchor="start" stroke="#1c1c1c" stroke-width="0.45" textLength="34.5" lengthAdjust="spacingAndGlyphs" >Gate</text>
<text x="55.3" y="134.6" font-size="14.5" font-weight="bold" fill="#1c1c1c" text-anchor="start" stroke="#1c1c1c" stroke-width="0.45" textLength="68.8" lengthAdjust="spacingAndGlyphs" >electrode</text>
<text x="60.2" y="154.1" font-size="14.5" font-weight="bold" fill="#1c1c1c" text-anchor="start" stroke="#1c1c1c" stroke-width="0.45" textLength="59" lengthAdjust="spacingAndGlyphs" >opening</text>
<circle cx="127.7" cy="131.5" r="1.5" fill="#222"/>
<line x1="128" y1="131" x2="187.5" y2="131" stroke="#555" stroke-opacity="0.6" stroke-width="1"/>
<text x="387.2" y="18.1" font-size="19.7" font-weight="bold" fill="#111" text-anchor="start" stroke="#111" stroke-width="0.45" textLength="23.4" lengthAdjust="spacingAndGlyphs" >(b)</text>
<rect x="449.6" y="38.5" width="330.9" height="267.4" fill="#fff" stroke="none"/>
<line x1="449.6" y1="37.5" x2="449.6" y2="306.9" stroke="#5a5a5a" stroke-width="2"/>
<line x1="449.6" y1="305.9" x2="781.15" y2="305.9" stroke="#5a5a5a" stroke-width="2"/>
<line x1="449.6" y1="38.5" x2="781.15" y2="38.5" stroke="#5a5a5a" stroke-width="2"/>
<line x1="780.5" y1="38.5" x2="780.5" y2="305.9" stroke="#5a5a5a" stroke-width="1.3"/>
<line x1="444.40000000000003" y1="279.0" x2="449.6" y2="279.0" stroke="#5a5a5a" stroke-width="1.6"/>
<line x1="444.40000000000003" y1="225.5" x2="449.6" y2="225.5" stroke="#5a5a5a" stroke-width="1.6"/>
<line x1="444.40000000000003" y1="172.0" x2="449.6" y2="172.0" stroke="#5a5a5a" stroke-width="1.6"/>
<line x1="444.40000000000003" y1="118.5" x2="449.6" y2="118.5" stroke="#5a5a5a" stroke-width="1.6"/>
<line x1="444.40000000000003" y1="65.0" x2="449.6" y2="65.0" stroke="#5a5a5a" stroke-width="1.6"/>
<line x1="446.8" y1="252.25" x2="449.6" y2="252.25" stroke="#5a5a5a" stroke-width="1.4"/>
<line x1="446.8" y1="198.75" x2="449.6" y2="198.75" stroke="#5a5a5a" stroke-width="1.4"/>
<line x1="446.8" y1="145.25" x2="449.6" y2="145.25" stroke="#5a5a5a" stroke-width="1.4"/>
<line x1="446.8" y1="91.75" x2="449.6" y2="91.75" stroke="#5a5a5a" stroke-width="1.4"/>
<text x="441" y="283.86" font-size="16" font-weight="normal" fill="#333" text-anchor="end" stroke="#333" stroke-width="0.25" >50</text>
<text x="441" y="230.35999999999999" font-size="16" font-weight="normal" fill="#333" text-anchor="end" stroke="#333" stroke-width="0.25" >100</text>
<text x="441" y="176.85999999999999" font-size="16" font-weight="normal" fill="#333" text-anchor="end" stroke="#333" stroke-width="0.25" >150</text>
<text x="441" y="123.36" font-size="16" font-weight="normal" fill="#333" text-anchor="end" stroke="#333" stroke-width="0.25" >200</text>
<text x="441" y="69.86" font-size="16" font-weight="normal" fill="#333" text-anchor="end" stroke="#333" stroke-width="0.25" >250</text>
<line x1="467.5" y1="305.9" x2="467.5" y2="311.09999999999997" stroke="#5a5a5a" stroke-width="1.6"/>
<line x1="559.35" y1="305.9" x2="559.35" y2="311.09999999999997" stroke="#5a5a5a" stroke-width="1.6"/>
<line x1="651.2" y1="305.9" x2="651.2" y2="311.09999999999997" stroke="#5a5a5a" stroke-width="1.6"/>
<line x1="743.05" y1="305.9" x2="743.05" y2="311.09999999999997" stroke="#5a5a5a" stroke-width="1.6"/>
<line x1="513.425" y1="305.9" x2="513.425" y2="308.7" stroke="#5a5a5a" stroke-width="1.4"/>
<line x1="605.275" y1="305.9" x2="605.275" y2="308.7" stroke="#5a5a5a" stroke-width="1.4"/>
<line x1="697.125" y1="305.9" x2="697.125" y2="308.7" stroke="#5a5a5a" stroke-width="1.4"/>
<text x="467.5" y="326.86" font-size="16" font-weight="normal" fill="#333" text-anchor="middle" stroke="#333" stroke-width="0.25" >0</text>
<text x="559.35" y="326.86" font-size="16" font-weight="normal" fill="#333" text-anchor="middle" stroke="#333" stroke-width="0.25" >5000</text>
<text x="651.2" y="326.86" font-size="16" font-weight="normal" fill="#333" text-anchor="middle" stroke="#333" stroke-width="0.25" >10000</text>
<text x="743.05" y="326.86" font-size="16" font-weight="normal" fill="#333" text-anchor="middle" stroke="#333" stroke-width="0.25" >15000</text>
<text transform="translate(403,182.5) rotate(-90)" x="0" y="0" font-size="15" font-weight="bold" fill="#262626" text-anchor="middle" textLength="70" lengthAdjust="spacingAndGlyphs">Gain (µA)</text>
<text x="615" y="353.1" font-size="15" font-weight="bold" fill="#262626" text-anchor="middle" stroke="#262626" stroke-width="0.15" textLength="65" lengthAdjust="spacingAndGlyphs" >Gap (µm)</text>
<polyline points="469,262.5 504.3,275.5 559,296.5 651,292.5 743.5,292.5" fill="none" stroke="#8a8a8a" stroke-width="1.35"/>
<polyline points="469,208 504.3,230 559,259 651,265 743.5,268" fill="none" stroke="#f58a8a" stroke-width="1.35"/>
<polyline points="469,158 504.3,175.5 559,229 651,229 743.5,239" fill="none" stroke="#93e693" stroke-width="1.35"/>
<polyline points="469,113.5 504.3,143.5 559,191 651,203 743.5,207.5" fill="none" stroke="#9a9af2" stroke-width="1.35"/>
<polyline points="469,72 504.3,110 559,170 651,184 743.5,187.5" fill="none" stroke="#a6f2f2" stroke-width="1.35"/>
<rect x="466.2" y="259.7" width="5.6" height="5.6" fill="#000"/>
<rect x="501.5" y="272.7" width="5.6" height="5.6" fill="#000"/>
<rect x="556.2" y="293.7" width="5.6" height="5.6" fill="#000"/>
<rect x="648.2" y="289.7" width="5.6" height="5.6" fill="#000"/>
<rect x="740.7" y="289.7" width="5.6" height="5.6" fill="#000"/>
<circle cx="469" cy="208" r="3.05" fill="#f01010"/>
<circle cx="504.3" cy="230" r="3.05" fill="#f01010"/>
<circle cx="559" cy="259" r="3.05" fill="#f01010"/>
<circle cx="651" cy="265" r="3.05" fill="#f01010"/>
<circle cx="743.5" cy="268" r="3.05" fill="#f01010"/>
<path d="M469 154.4 L472.6 160.6 L465.4 160.6 Z" fill="#1010f0"/>
<path d="M504.3 171.9 L507.90000000000003 178.1 L500.7 178.1 Z" fill="#1010f0"/>
<path d="M559 225.4 L562.6 231.6 L555.4 231.6 Z" fill="#1010f0"/>
<path d="M651 225.4 L654.6 231.6 L647.4 231.6 Z" fill="#1010f0"/>
<path d="M743.5 235.4 L747.1 241.6 L739.9 241.6 Z" fill="#1010f0"/>
<path d="M469 117.1 L472.6 110.9 L465.4 110.9 Z" fill="#f010f0"/>
<path d="M504.3 147.1 L507.90000000000003 140.9 L500.7 140.9 Z" fill="#f010f0"/>
<path d="M559 194.6 L562.6 188.4 L555.4 188.4 Z" fill="#f010f0"/>
<path d="M651 206.6 L654.6 200.4 L647.4 200.4 Z" fill="#f010f0"/>
<path d="M743.5 211.1 L747.1 204.9 L739.9 204.9 Z" fill="#f010f0"/>
<path d="M469 68.2 L472.8 72 L469 75.8 L465.2 72 Z" fill="#0a7a0a"/>
<path d="M504.3 106.2 L508.1 110 L504.3 113.8 L500.5 110 Z" fill="#0a7a0a"/>
<path d="M559 166.2 L562.8 170 L559 173.8 L555.2 170 Z" fill="#0a7a0a"/>
<path d="M651 180.2 L654.8 184 L651 187.8 L647.2 184 Z" fill="#0a7a0a"/>
<path d="M743.5 183.7 L747.3 187.5 L743.5 191.3 L739.7 187.5 Z" fill="#0a7a0a"/>
<rect x="677.5" y="52.5" width="71" height="98.5" fill="#999" opacity="0.55"/>
<rect x="676.3" y="51.3" width="71" height="98.5" fill="#fff" stroke="#8c8c8c" stroke-width="1.2"/>
<line x1="680" y1="64" x2="703.5" y2="64" stroke="#8a8a8a" stroke-width="1.35"/>
<rect x="689.0" y="61.2" width="5.6" height="5.6" fill="#000"/>
<text x="707.5" y="69.7" font-size="16" font-weight="normal" fill="#333" text-anchor="start" stroke="#333" stroke-width="0.25" >0.2 V</text>
<line x1="680" y1="83" x2="703.5" y2="83" stroke="#f58a8a" stroke-width="1.35"/>
<circle cx="691.8" cy="83" r="3.05" fill="#f01010"/>
<text x="707.5" y="88.7" font-size="16" font-weight="normal" fill="#333" text-anchor="start" stroke="#333" stroke-width="0.25" >0.4 V</text>
<line x1="680" y1="102.5" x2="703.5" y2="102.5" stroke="#93e693" stroke-width="1.35"/>
<path d="M691.8 98.9 L695.4 105.1 L688.1999999999999 105.1 Z" fill="#1010f0"/>
<text x="707.5" y="108.2" font-size="16" font-weight="normal" fill="#333" text-anchor="start" stroke="#333" stroke-width="0.25" >0.6 V</text>
<line x1="680" y1="122" x2="703.5" y2="122" stroke="#9a9af2" stroke-width="1.35"/>
<path d="M691.8 125.6 L695.4 119.4 L688.1999999999999 119.4 Z" fill="#f010f0"/>
<text x="707.5" y="127.7" font-size="16" font-weight="normal" fill="#333" text-anchor="start" stroke="#333" stroke-width="0.25" >0.8 V</text>
<line x1="680" y1="142" x2="703.5" y2="142" stroke="#a6f2f2" stroke-width="1.35"/>
<path d="M691.8 138.2 L695.5999999999999 142 L691.8 145.8 L688.0 142 Z" fill="#0a7a0a"/>
<text x="708.6" y="147.7" font-size="16" font-weight="normal" fill="#333" text-anchor="start" stroke="#333" stroke-width="0.25" >1 V</text>
<text x="805.2" y="18.1" font-size="19.7" font-weight="bold" fill="#111" text-anchor="start" stroke="#111" stroke-width="0.45" textLength="20.6" lengthAdjust="spacingAndGlyphs" >(c)</text>
<rect x="802.7" y="75.2" width="30.6" height="228" fill="#ffc000"/>
<text transform="translate(818.2,195.3) scale(0.9,1)" x="0" y="0" font-size="15" font-weight="bold" fill="#5e4700" text-anchor="middle">G</text>
<path d="M833.6 61 L833.6 244.1 L954 244.1" fill="none" stroke="#6a6a6a" stroke-width="2"/>
<path d="M833.4 56.8 L830.6 62 L836.2 62 Z" fill="#111"/>
<path d="M958.8 244.1 L953.2 241.5 L953.2 246.7 Z" fill="#111"/>
<text transform="translate(833,50.6) scale(1.08,1)" x="0" y="0" font-size="16.8" font-weight="bold" fill="#222" text-anchor="middle">ψ</text>
<text x="856.6" y="86.3" font-size="15" font-weight="bold" fill="#d93844" text-anchor="start" stroke="#d93844" stroke-width="0.45" textLength="103.2" lengthAdjust="spacingAndGlyphs" >In linear region</text>
<text x="902.6" y="259.7" font-size="14" font-weight="bold" fill="#262626" text-anchor="start" stroke="#262626" stroke-width="0.45" textLength="63" lengthAdjust="spacingAndGlyphs" >x&lt;10 mm</text>
<path d="M835.6 76.0 C836.0 79.7,836.3 91.3,838.2 98.2 C840.1 105.1,843.3 111.0,847.0 117.4 C850.7 123.8,855.1 130.6,860.3 136.5 C865.5 142.4,871.9 147.9,878.0 152.6 C884.1 157.2,890.2 160.7,897.0 164.4 C903.8 168.1,911.8 171.9,919.0 174.7 C926.2 177.5,934.8 179.4,940.0 181.0 C945.2 182.6,947.2 182.7,950.0 184.0 C952.8 185.3,954.3 186.4,957.0 189.0 C959.7 191.6,963.2 195.2,966.2 199.7 C969.2 204.2,972.7 210.8,975.0 215.9 C977.3 221.0,978.7 225.5,980.0 230.0 C981.3 234.5,982.5 240.8,983.0 243.0" fill="none" stroke="#2a2a2a" stroke-width="2.3" stroke-dasharray="7.2,4.6"/>
<line x1="1000.3" y1="71" x2="1000.3" y2="96" stroke="#2a2a2a" stroke-width="2.3"/>
<circle cx="1000.3" cy="71.3" r="5.3" fill="#000"/>
<line x1="1000.3" y1="277" x2="1000.3" y2="304" stroke="#2a2a2a" stroke-width="2.3"/>
<circle cx="1000.3" cy="304" r="5.3" fill="#000"/>
<rect x="984.6" y="95.5" width="31.600000000000023" height="35.3" fill="#ffc000"/>
<rect x="984.6" y="95" width="31.600000000000023" height="1.1" fill="#9ccf6a"/>
<rect x="984.6" y="243.7" width="31.600000000000023" height="34" fill="#ffc000"/>
<rect x="984.6" y="130.7" width="31.600000000000023" height="113.2" fill="#2f86d1"/>
<rect x="984.6" y="135.42" width="31.600000000000023" height="4.25" fill="#559fdc"/>
<rect x="984.6" y="144.85" width="31.600000000000023" height="4.25" fill="#559fdc"/>
<rect x="984.6" y="154.28" width="31.600000000000023" height="4.25" fill="#559fdc"/>
<rect x="984.6" y="163.72" width="31.600000000000023" height="4.25" fill="#559fdc"/>
<rect x="984.6" y="173.15" width="31.600000000000023" height="4.25" fill="#559fdc"/>
<rect x="984.6" y="182.58" width="31.600000000000023" height="4.25" fill="#559fdc"/>
<rect x="984.6" y="192.02" width="31.600000000000023" height="4.25" fill="#559fdc"/>
<rect x="984.6" y="201.45" width="31.600000000000023" height="4.25" fill="#559fdc"/>
<rect x="984.6" y="210.88" width="31.600000000000023" height="4.25" fill="#559fdc"/>
<rect x="984.6" y="220.32" width="31.600000000000023" height="4.25" fill="#559fdc"/>
<rect x="984.6" y="229.75" width="31.600000000000023" height="4.25" fill="#559fdc"/>
<rect x="984.6" y="239.18" width="31.600000000000023" height="4.25" fill="#559fdc"/>
<text transform="translate(1000.3,118.8) scale(0.86,1)" x="0" y="0" font-size="15" font-weight="bold" fill="#5e4700" text-anchor="middle">S</text>
<text transform="translate(1000.3,267.4) scale(0.86,1)" x="0" y="0" font-size="15" font-weight="bold" fill="#5e4700" text-anchor="middle">D</text>
<rect x="1064.7" y="75.2" width="31" height="228" fill="#ffc000"/>
<text transform="translate(1080.2,195.3) scale(0.9,1)" x="0" y="0" font-size="15" font-weight="bold" fill="#5e4700" text-anchor="middle">G</text>
<path d="M1096 63 L1096 192 L1216 192" fill="none" stroke="#6a6a6a" stroke-width="2"/>
<path d="M1095.8 59.3 L1093 64.5 L1098.6 64.5 Z" fill="#111"/>
<path d="M1220.6 192 L1215 189.4 L1215 194.6 Z" fill="#111"/>
<text transform="translate(1095.6,50.4) scale(1.08,1)" x="0" y="0" font-size="16.8" font-weight="bold" fill="#222" text-anchor="middle">ψ</text>
<text x="1105" y="85.9" font-size="15" font-weight="bold" fill="#d93844" text-anchor="start" stroke="#d93844" stroke-width="0.45" textLength="87" lengthAdjust="spacingAndGlyphs" >In saturation</text>
<text x="1199.3" y="85.9" font-size="15" font-weight="bold" fill="#d93844" text-anchor="start" stroke="#d93844" stroke-width="0.45" textLength="44.4" lengthAdjust="spacingAndGlyphs" >region</text>
<text x="1166.4" y="209.5" font-size="14" font-weight="bold" fill="#262626" text-anchor="start" stroke="#262626" stroke-width="0.45" textLength="63" lengthAdjust="spacingAndGlyphs" >x&gt;10 mm</text>
<path d="M1096.9 78.0 C1097.0 83.8,1096.8 102.5,1097.6 113.0 C1098.4 123.5,1099.9 132.2,1101.8 141.0 C1103.7 149.8,1106.4 159.2,1108.7 166.0 C1111.0 172.8,1113.4 177.4,1115.7 181.6 C1118.0 185.8,1121.5 189.4,1122.7 191.0" fill="none" stroke="#2a2a2a" stroke-width="2.3" stroke-dasharray="7.2,4.6"/>
<rect x="1126.3" y="194" width="1.3" height="2.6" fill="#bbb"/>
<line x1="1262.5" y1="71" x2="1262.5" y2="96" stroke="#2a2a2a" stroke-width="2.3"/>
<circle cx="1262.5" cy="71.3" r="5.3" fill="#000"/>
<line x1="1262.5" y1="277" x2="1262.5" y2="304" stroke="#2a2a2a" stroke-width="2.3"/>
<circle cx="1262.5" cy="304" r="5.3" fill="#000"/>
<rect x="1247.2" y="95.5" width="31.09999999999991" height="35.3" fill="#ffc000"/>
<rect x="1247.2" y="95" width="31.09999999999991" height="1.1" fill="#9ccf6a"/>
<rect x="1247.2" y="243.7" width="31.09999999999991" height="34" fill="#ffc000"/>
<rect x="1247.2" y="130.7" width="31.09999999999991" height="113.2" fill="#2f86d1"/>
<rect x="1247.2" y="135.42" width="31.09999999999991" height="4.25" fill="#559fdc"/>
<rect x="1247.2" y="144.85" width="31.09999999999991" height="4.25" fill="#559fdc"/>
<rect x="1247.2" y="154.28" width="31.09999999999991" height="4.25" fill="#559fdc"/>
<rect x="1247.2" y="163.72" width="31.09999999999991" height="4.25" fill="#559fdc"/>
<rect x="1247.2" y="173.15" width="31.09999999999991" height="4.25" fill="#559fdc"/>
<rect x="1247.2" y="182.58" width="31.09999999999991" height="4.25" fill="#559fdc"/>
<rect x="1247.2" y="192.02" width="31.09999999999991" height="4.25" fill="#559fdc"/>
<rect x="1247.2" y="201.45" width="31.09999999999991" height="4.25" fill="#559fdc"/>
<rect x="1247.2" y="210.88" width="31.09999999999991" height="4.25" fill="#559fdc"/>
<rect x="1247.2" y="220.32" width="31.09999999999991" height="4.25" fill="#559fdc"/>
<rect x="1247.2" y="229.75" width="31.09999999999991" height="4.25" fill="#559fdc"/>
<rect x="1247.2" y="239.18" width="31.09999999999991" height="4.25" fill="#559fdc"/>
<text transform="translate(1262.5,118.8) scale(0.86,1)" x="0" y="0" font-size="15" font-weight="bold" fill="#5e4700" text-anchor="middle">S</text>
<text transform="translate(1262.5,267.4) scale(0.86,1)" x="0" y="0" font-size="15" font-weight="bold" fill="#5e4700" text-anchor="middle">D</text>
<text x="44.4" y="345.8" font-size="19.7" font-weight="bold" fill="#111" text-anchor="start" stroke="#111" stroke-width="0.45" textLength="23.2" lengthAdjust="spacingAndGlyphs" >(d)</text>
<rect x="59.5" y="358" width="325.9" height="264.6" fill="#fff" stroke="none"/>
<line x1="59.5" y1="357.0" x2="59.5" y2="623.6" stroke="#5a5a5a" stroke-width="2"/>
<line x1="59.5" y1="622.6" x2="386.04999999999995" y2="622.6" stroke="#5a5a5a" stroke-width="2"/>
<line x1="59.5" y1="358" x2="386.04999999999995" y2="358" stroke="#5a5a5a" stroke-width="2"/>
<line x1="385.4" y1="358" x2="385.4" y2="622.6" stroke="#5a5a5a" stroke-width="1.3"/>
<line x1="54.3" y1="573.75" x2="59.5" y2="573.75" stroke="#5a5a5a" stroke-width="1.6"/>
<line x1="54.3" y1="513.75" x2="59.5" y2="513.75" stroke="#5a5a5a" stroke-width="1.6"/>
<line x1="54.3" y1="453.75" x2="59.5" y2="453.75" stroke="#5a5a5a" stroke-width="1.6"/>
<line x1="54.3" y1="393.75" x2="59.5" y2="393.75" stroke="#5a5a5a" stroke-width="1.6"/>
<line x1="56.7" y1="603.75" x2="59.5" y2="603.75" stroke="#5a5a5a" stroke-width="1.4"/>
<line x1="56.7" y1="543.75" x2="59.5" y2="543.75" stroke="#5a5a5a" stroke-width="1.4"/>
<line x1="56.7" y1="483.75" x2="59.5" y2="483.75" stroke="#5a5a5a" stroke-width="1.4"/>
<line x1="56.7" y1="423.75" x2="59.5" y2="423.75" stroke="#5a5a5a" stroke-width="1.4"/>
<line x1="56.7" y1="363.75" x2="59.5" y2="363.75" stroke="#5a5a5a" stroke-width="1.4"/>
<text x="50.5" y="578.25" font-size="15" font-weight="normal" fill="#333" text-anchor="end" stroke="#333" stroke-width="0.25" >150</text>
<text x="50.5" y="518.25" font-size="15" font-weight="normal" fill="#333" text-anchor="end" stroke="#333" stroke-width="0.25" >200</text>
<text x="50.5" y="458.25" font-size="15" font-weight="normal" fill="#333" text-anchor="end" stroke="#333" stroke-width="0.25" >250</text>
<text x="50.5" y="398.25" font-size="15" font-weight="normal" fill="#333" text-anchor="end" stroke="#333" stroke-width="0.25" >300</text>
<line x1="85.9" y1="622.6" x2="85.9" y2="627.8000000000001" stroke="#5a5a5a" stroke-width="1.6"/>
<line x1="140.32" y1="622.6" x2="140.32" y2="627.8000000000001" stroke="#5a5a5a" stroke-width="1.6"/>
<line x1="194.74" y1="622.6" x2="194.74" y2="627.8000000000001" stroke="#5a5a5a" stroke-width="1.6"/>
<line x1="249.16" y1="622.6" x2="249.16" y2="627.8000000000001" stroke="#5a5a5a" stroke-width="1.6"/>
<line x1="303.58000000000004" y1="622.6" x2="303.58000000000004" y2="627.8000000000001" stroke="#5a5a5a" stroke-width="1.6"/>
<line x1="358.0" y1="622.6" x2="358.0" y2="627.8000000000001" stroke="#5a5a5a" stroke-width="1.6"/>
<line x1="58.690000000000005" y1="622.6" x2="58.690000000000005" y2="625.4" stroke="#5a5a5a" stroke-width="1.4"/>
<line x1="113.11000000000001" y1="622.6" x2="113.11000000000001" y2="625.4" stroke="#5a5a5a" stroke-width="1.4"/>
<line x1="167.53" y1="622.6" x2="167.53" y2="625.4" stroke="#5a5a5a" stroke-width="1.4"/>
<line x1="221.95000000000002" y1="622.6" x2="221.95000000000002" y2="625.4" stroke="#5a5a5a" stroke-width="1.4"/>
<line x1="276.37" y1="622.6" x2="276.37" y2="625.4" stroke="#5a5a5a" stroke-width="1.4"/>
<line x1="330.79" y1="622.6" x2="330.79" y2="625.4" stroke="#5a5a5a" stroke-width="1.4"/>
<line x1="385.21000000000004" y1="622.6" x2="385.21000000000004" y2="625.4" stroke="#5a5a5a" stroke-width="1.4"/>
<text x="85.9" y="642.3" font-size="15" font-weight="normal" fill="#333" text-anchor="middle" stroke="#333" stroke-width="0.25" >0</text>
<text x="140.32" y="642.3" font-size="15" font-weight="normal" fill="#333" text-anchor="middle" stroke="#333" stroke-width="0.25" >200</text>
<text x="194.74" y="642.3" font-size="15" font-weight="normal" fill="#333" text-anchor="middle" stroke="#333" stroke-width="0.25" >400</text>
<text x="249.16" y="642.3" font-size="15" font-weight="normal" fill="#333" text-anchor="middle" stroke="#333" stroke-width="0.25" >600</text>
<text x="303.58000000000004" y="642.3" font-size="15" font-weight="normal" fill="#333" text-anchor="middle" stroke="#333" stroke-width="0.25" >800</text>
<text x="358.0" y="642.3" font-size="15" font-weight="normal" fill="#333" text-anchor="middle" stroke="#333" stroke-width="0.25" >1000</text>
<text transform="translate(14,500) rotate(-90)" x="0" y="0" font-size="15" font-weight="bold" fill="#262626" text-anchor="middle" textLength="67" lengthAdjust="spacingAndGlyphs">Gain (µA)</text>
<text x="222.4" y="667.3" font-size="14" font-weight="bold" fill="#262626" text-anchor="middle" stroke="#262626" stroke-width="0.15" textLength="93" lengthAdjust="spacingAndGlyphs" >[BNP] (pg/ml)</text>
<rect x="83.75" y="383.5" width="6.3" height="5.4" fill="#000"/>
<rect x="110.14999999999999" y="436.90000000000003" width="6.3" height="5.4" fill="#000"/>
<rect x="137.65" y="508.90000000000003" width="6.3" height="5.4" fill="#000"/>
<rect x="219.04999999999998" y="584.0" width="6.3" height="5.4" fill="#000"/>
<rect x="355.05" y="592.0" width="6.3" height="5.4" fill="#000"/>
<rect x="291.5" y="369.6" width="76.5" height="19.8" fill="none" stroke="#d4d4d4" stroke-width="1.2"/>
<rect x="290.5" y="368.6" width="76.5" height="19.8" fill="#fff" stroke="#a8a8a8" stroke-width="1.3"/>
<rect x="303.5" y="378.4" width="6.2" height="5.2" fill="#000"/>
<text x="320.7" y="383.5" font-size="14.7" font-weight="normal" fill="#40404a" text-anchor="start" stroke="#40404a" stroke-width="0.25" textLength="43.6" lengthAdjust="spacingAndGlyphs" >65 µm</text>
<text x="291.2" y="403.8" font-size="14.5" font-weight="bold" font-style="italic" fill="#1a1a1a" style="font-family:'Liberation Serif',serif" stroke="#1a1a1a" stroke-width="0.6">δ</text>
<text x="300" y="411.6" font-size="21" font-weight="bold" fill="#1a1a1a" text-anchor="start" stroke="#1a1a1a" stroke-width="0.45" textLength="65.6" lengthAdjust="spacingAndGlyphs" >=0.174</text>
<text x="395.8" y="345.8" font-size="19.7" font-weight="bold" fill="#111" text-anchor="start" stroke="#111" stroke-width="0.45" textLength="23.2" lengthAdjust="spacingAndGlyphs" >(e)</text>
<rect x="453.7" y="363.8" width="325.8" height="262.8" fill="#fff" stroke="none"/>
<line x1="453.7" y1="362.8" x2="453.7" y2="627.6" stroke="#5a5a5a" stroke-width="2"/>
<line x1="453.7" y1="626.6" x2="780.15" y2="626.6" stroke="#5a5a5a" stroke-width="2"/>
<line x1="453.7" y1="363.8" x2="780.15" y2="363.8" stroke="#5a5a5a" stroke-width="2"/>
<line x1="779.5" y1="363.8" x2="779.5" y2="626.6" stroke="#5a5a5a" stroke-width="1.3"/>
<line x1="448.5" y1="626.6" x2="453.7" y2="626.6" stroke="#5a5a5a" stroke-width="1.6"/>
<line x1="448.5" y1="539.0" x2="453.7" y2="539.0" stroke="#5a5a5a" stroke-width="1.6"/>
<line x1="448.5" y1="451.40000000000003" x2="453.7" y2="451.40000000000003" stroke="#5a5a5a" stroke-width="1.6"/>
<line x1="448.5" y1="363.8" x2="453.7" y2="363.8" stroke="#5a5a5a" stroke-width="1.6"/>
<line x1="450.9" y1="582.8000000000001" x2="453.7" y2="582.8000000000001" stroke="#5a5a5a" stroke-width="1.4"/>
<line x1="450.9" y1="495.20000000000005" x2="453.7" y2="495.20000000000005" stroke="#5a5a5a" stroke-width="1.4"/>
<line x1="450.9" y1="407.6" x2="453.7" y2="407.6" stroke="#5a5a5a" stroke-width="1.4"/>
<text x="444.5" y="631.1" font-size="15" font-weight="normal" fill="#333" text-anchor="end" stroke="#333" stroke-width="0.25" >0</text>
<text x="444.5" y="543.5" font-size="15" font-weight="normal" fill="#333" text-anchor="end" stroke="#333" stroke-width="0.25" >50</text>
<text x="444.5" y="455.90000000000003" font-size="15" font-weight="normal" fill="#333" text-anchor="end" stroke="#333" stroke-width="0.25" >100</text>
<text x="444.5" y="368.3" font-size="15" font-weight="normal" fill="#333" text-anchor="end" stroke="#333" stroke-width="0.25" >150</text>
<line x1="480.9" y1="626.6" x2="480.9" y2="631.8000000000001" stroke="#5a5a5a" stroke-width="1.6"/>
<line x1="535.05" y1="626.6" x2="535.05" y2="631.8000000000001" stroke="#5a5a5a" stroke-width="1.6"/>
<line x1="589.1999999999999" y1="626.6" x2="589.1999999999999" y2="631.8000000000001" stroke="#5a5a5a" stroke-width="1.6"/>
<line x1="643.3499999999999" y1="626.6" x2="643.3499999999999" y2="631.8000000000001" stroke="#5a5a5a" stroke-width="1.6"/>
<line x1="697.5" y1="626.6" x2="697.5" y2="631.8000000000001" stroke="#5a5a5a" stroke-width="1.6"/>
<line x1="751.65" y1="626.6" x2="751.65" y2="631.8000000000001" stroke="#5a5a5a" stroke-width="1.6"/>
<line x1="453.825" y1="626.6" x2="453.825" y2="629.4" stroke="#5a5a5a" stroke-width="1.4"/>
<line x1="507.97499999999997" y1="626.6" x2="507.97499999999997" y2="629.4" stroke="#5a5a5a" stroke-width="1.4"/>
<line x1="562.125" y1="626.6" x2="562.125" y2="629.4" stroke="#5a5a5a" stroke-width="1.4"/>
<line x1="616.275" y1="626.6" x2="616.275" y2="629.4" stroke="#5a5a5a" stroke-width="1.4"/>
<line x1="670.425" y1="626.6" x2="670.425" y2="629.4" stroke="#5a5a5a" stroke-width="1.4"/>
<line x1="724.5749999999999" y1="626.6" x2="724.5749999999999" y2="629.4" stroke="#5a5a5a" stroke-width="1.4"/>
<line x1="778.7249999999999" y1="626.6" x2="778.7249999999999" y2="629.4" stroke="#5a5a5a" stroke-width="1.4"/>
<text x="480.9" y="648.0" font-size="15" font-weight="normal" fill="#333" text-anchor="middle" stroke="#333" stroke-width="0.25" >0</text>
<text x="535.05" y="648.0" font-size="15" font-weight="normal" fill="#333" text-anchor="middle" stroke="#333" stroke-width="0.25" >100</text>
<text x="589.1999999999999" y="648.0" font-size="15" font-weight="normal" fill="#333" text-anchor="middle" stroke="#333" stroke-width="0.25" >200</text>
<text x="643.3499999999999" y="648.0" font-size="15" font-weight="normal" fill="#333" text-anchor="middle" stroke="#333" stroke-width="0.25" >300</text>
<text x="697.5" y="648.0" font-size="15" font-weight="normal" fill="#333" text-anchor="middle" stroke="#333" stroke-width="0.25" >400</text>
<text x="751.65" y="648.0" font-size="15" font-weight="normal" fill="#333" text-anchor="middle" stroke="#333" stroke-width="0.25" >500</text>
<text transform="translate(408,505.3) rotate(-90)" x="0" y="0" font-size="15" font-weight="bold" fill="#262626" text-anchor="middle" textLength="67" lengthAdjust="spacingAndGlyphs">Gain (µA)</text>
<text x="616.9" y="672.3" font-size="14" font-weight="bold" fill="#262626" text-anchor="middle" stroke="#262626" stroke-width="0.15" textLength="93" lengthAdjust="spacingAndGlyphs" >[BNP] (pg/ml)</text>
<rect x="477.85" y="379.3" width="6.3" height="5.4" fill="#000"/>
<rect x="531.65" y="409.8" width="6.3" height="5.4" fill="#000"/>
<rect x="586.0500000000001" y="432.3" width="6.3" height="5.4" fill="#000"/>
<rect x="749.0500000000001" y="451.8" width="6.3" height="5.4" fill="#000"/>
<rect x="654.4" y="369.6" width="94" height="19.6" fill="none" stroke="#d4d4d4" stroke-width="1.2"/>
<rect x="653.4" y="368.6" width="94" height="19.6" fill="#fff" stroke="#a8a8a8" stroke-width="1.3"/>
<rect x="666.1999999999999" y="377.79999999999995" width="6.2" height="5.2" fill="#000"/>
<text x="685.8" y="383.5" font-size="14.7" font-weight="normal" fill="#40404a" text-anchor="start" stroke="#40404a" stroke-width="0.25" textLength="58.2" lengthAdjust="spacingAndGlyphs" >1000 µm</text>
<text x="664.4" y="403.8" font-size="14.5" font-weight="bold" font-style="italic" fill="#1a1a1a" style="font-family:'Liberation Serif',serif" stroke="#1a1a1a" stroke-width="0.6">δ</text>
<text x="673" y="411.8" font-size="21" font-weight="bold" fill="#1a1a1a" text-anchor="start" stroke="#1a1a1a" stroke-width="0.45" textLength="65.2" lengthAdjust="spacingAndGlyphs" >=0.082</text>
<text x="804.6" y="345.8" font-size="19.7" font-weight="bold" fill="#111" text-anchor="start" stroke="#111" stroke-width="0.45" textLength="18.6" lengthAdjust="spacingAndGlyphs" >(f)</text>
<rect x="859.3" y="364.5" width="325.20000000000005" height="263.79999999999995" fill="#fff" stroke="none"/>
<line x1="859.3" y1="363.5" x2="859.3" y2="629.3" stroke="#5a5a5a" stroke-width="2"/>
<line x1="859.3" y1="628.3" x2="1185.15" y2="628.3" stroke="#5a5a5a" stroke-width="2"/>
<line x1="859.3" y1="364.5" x2="1185.15" y2="364.5" stroke="#5a5a5a" stroke-width="2"/>
<line x1="1184.5" y1="364.5" x2="1184.5" y2="628.3" stroke="#5a5a5a" stroke-width="1.3"/>
<line x1="854.0999999999999" y1="628.3" x2="859.3" y2="628.3" stroke="#5a5a5a" stroke-width="1.6"/>
<line x1="854.0999999999999" y1="540.365" x2="859.3" y2="540.365" stroke="#5a5a5a" stroke-width="1.6"/>
<line x1="854.0999999999999" y1="452.42999999999995" x2="859.3" y2="452.42999999999995" stroke="#5a5a5a" stroke-width="1.6"/>
<line x1="854.0999999999999" y1="364.49499999999995" x2="859.3" y2="364.49499999999995" stroke="#5a5a5a" stroke-width="1.6"/>
<line x1="856.5" y1="584.3325" x2="859.3" y2="584.3325" stroke="#5a5a5a" stroke-width="1.4"/>
<line x1="856.5" y1="496.3974999999999" x2="859.3" y2="496.3974999999999" stroke="#5a5a5a" stroke-width="1.4"/>
<line x1="856.5" y1="408.4625" x2="859.3" y2="408.4625" stroke="#5a5a5a" stroke-width="1.4"/>
<text x="849.5" y="632.8" font-size="15" font-weight="normal" fill="#333" text-anchor="end" stroke="#333" stroke-width="0.25" >50</text>
<text x="849.5" y="544.865" font-size="15" font-weight="normal" fill="#333" text-anchor="end" stroke="#333" stroke-width="0.25" >100</text>
<text x="849.5" y="456.92999999999995" font-size="15" font-weight="normal" fill="#333" text-anchor="end" stroke="#333" stroke-width="0.25" >150</text>
<text x="849.5" y="368.99499999999995" font-size="15" font-weight="normal" fill="#333" text-anchor="end" stroke="#333" stroke-width="0.25" >200</text>
<line x1="886.0" y1="628.3" x2="886.0" y2="633.5" stroke="#5a5a5a" stroke-width="1.6"/>
<line x1="940.2" y1="628.3" x2="940.2" y2="633.5" stroke="#5a5a5a" stroke-width="1.6"/>
<line x1="994.4" y1="628.3" x2="994.4" y2="633.5" stroke="#5a5a5a" stroke-width="1.6"/>
<line x1="1048.6" y1="628.3" x2="1048.6" y2="633.5" stroke="#5a5a5a" stroke-width="1.6"/>
<line x1="1102.8" y1="628.3" x2="1102.8" y2="633.5" stroke="#5a5a5a" stroke-width="1.6"/>
<line x1="1157.0" y1="628.3" x2="1157.0" y2="633.5" stroke="#5a5a5a" stroke-width="1.6"/>
<line x1="858.9" y1="628.3" x2="858.9" y2="631.0999999999999" stroke="#5a5a5a" stroke-width="1.4"/>
<line x1="913.1" y1="628.3" x2="913.1" y2="631.0999999999999" stroke="#5a5a5a" stroke-width="1.4"/>
<line x1="967.3" y1="628.3" x2="967.3" y2="631.0999999999999" stroke="#5a5a5a" stroke-width="1.4"/>
<line x1="1021.5" y1="628.3" x2="1021.5" y2="631.0999999999999" stroke="#5a5a5a" stroke-width="1.4"/>
<line x1="1075.7" y1="628.3" x2="1075.7" y2="631.0999999999999" stroke="#5a5a5a" stroke-width="1.4"/>
<line x1="1129.9" y1="628.3" x2="1129.9" y2="631.0999999999999" stroke="#5a5a5a" stroke-width="1.4"/>
<line x1="1184.1" y1="628.3" x2="1184.1" y2="631.0999999999999" stroke="#5a5a5a" stroke-width="1.4"/>
<text x="886.0" y="649.6" font-size="15" font-weight="normal" fill="#333" text-anchor="middle" stroke="#333" stroke-width="0.25" >0</text>
<text x="940.2" y="649.6" font-size="15" font-weight="normal" fill="#333" text-anchor="middle" stroke="#333" stroke-width="0.25" >100</text>
<text x="994.4" y="649.6" font-size="15" font-weight="normal" fill="#333" text-anchor="middle" stroke="#333" stroke-width="0.25" >200</text>
<text x="1048.6" y="649.6" font-size="15" font-weight="normal" fill="#333" text-anchor="middle" stroke="#333" stroke-width="0.25" >300</text>
<text x="1102.8" y="649.6" font-size="15" font-weight="normal" fill="#333" text-anchor="middle" stroke="#333" stroke-width="0.25" >400</text>
<text x="1157.0" y="649.6" font-size="15" font-weight="normal" fill="#333" text-anchor="middle" stroke="#333" stroke-width="0.25" >500</text>
<text transform="translate(813.5,507.5) rotate(-90)" x="0" y="0" font-size="15" font-weight="bold" fill="#262626" text-anchor="middle" textLength="68" lengthAdjust="spacingAndGlyphs">Gain (µA)</text>
<text x="1021.4" y="674.3" font-size="14" font-weight="bold" fill="#262626" text-anchor="middle" stroke="#262626" stroke-width="0.15" textLength="94" lengthAdjust="spacingAndGlyphs" >[BNP] (pg/ml)</text>
<rect x="883.0500000000001" y="479.3" width="6.3" height="5.4" fill="#000"/>
<rect x="937.0500000000001" y="479.3" width="6.3" height="5.4" fill="#000"/>
<rect x="991.35" y="482.3" width="6.3" height="5.4" fill="#000"/>
<rect x="1154.05" y="481.3" width="6.3" height="5.4" fill="#000"/>
<rect x="1061.5" y="369.2" width="101.8" height="19.6" fill="none" stroke="#d4d4d4" stroke-width="1.2"/>
<rect x="1060.5" y="368.2" width="101.8" height="19.6" fill="#fff" stroke="#a8a8a8" stroke-width="1.3"/>
<rect x="1073.1000000000001" y="377.29999999999995" width="6.2" height="5.2" fill="#000"/>
<text x="1091.8" y="383.6" font-size="14.7" font-weight="normal" fill="#40404a" text-anchor="start" stroke="#40404a" stroke-width="0.25" textLength="67.6" lengthAdjust="spacingAndGlyphs" >15000 µm</text>
<text x="1069.3" y="403.8" font-size="14.5" font-weight="bold" font-style="italic" fill="#1a1a1a" style="font-family:'Liberation Serif',serif" stroke="#1a1a1a" stroke-width="0.6">δ</text>
<text x="1077.8" y="412" font-size="21" font-weight="bold" fill="#1a1a1a" text-anchor="start" stroke="#1a1a1a" stroke-width="0.45" textLength="78.4" lengthAdjust="spacingAndGlyphs" >=0.0028</text>
</svg>
</body></html>
